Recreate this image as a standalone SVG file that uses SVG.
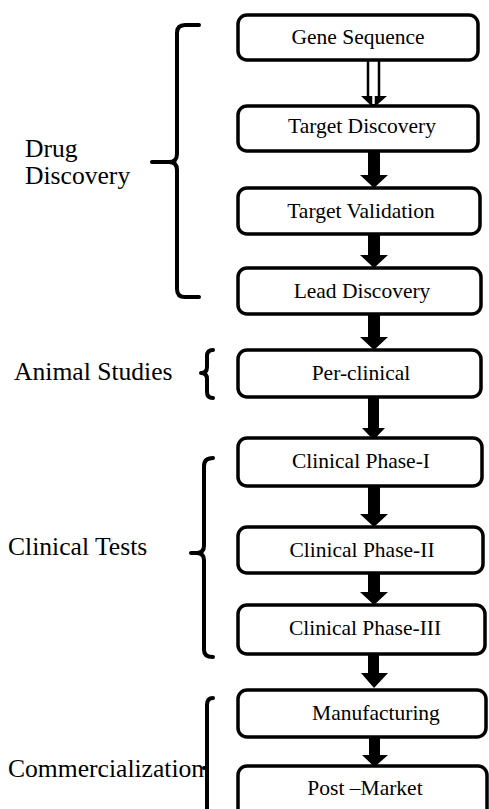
<svg xmlns="http://www.w3.org/2000/svg" width="489" height="809" viewBox="0 0 489 809">
<style>
.box{fill:#fff;stroke:#000;stroke-width:3.5}
.t{font-size:21.5px;fill:#000;text-anchor:middle}
.lab{font-size:25.6px;fill:#000}
.br{fill:none;stroke:#000;stroke-width:4;stroke-linecap:round;stroke-linejoin:round}
.ar{fill:#000;stroke:none}
</style>
<rect width="489" height="809" fill="#fff"/>
<g id="connectors">
<path d="M368,61 V97 M379,61 V97" fill="none" stroke="#000" stroke-width="2.5"/>
<path class="ar" d="M361,96 H387 L373.5,108 Z"/>
<path d="M373.5,96 V104" stroke="#fff" stroke-width="2.5"/>
<path class="ar" d="M368,151 H380 V175 H388 L374,188 L360,175 H368 Z"/>
<path class="ar" d="M368,234 H380 V255 H388 L374,268 L360,255 H368 Z"/>
<path class="ar" d="M368,314 H380 V337 H388 L374,350 L360,337 H368 Z"/>
<path class="ar" d="M368,397 H379 V428 H385 L373.5,440 L362,428 H368 Z"/>
<path class="ar" d="M368,486 H380 V514 H388 L374,527 L360,514 H368 Z"/>
<path class="ar" d="M368,573 H380 V592 H388 L374,605 L360,592 H368 Z"/>
<path class="ar" d="M368,654 H379 V673 H388 L374,688 L361,673 H368 Z"/>
<path class="ar" d="M369,737 H380 V755 H388 L374.5,767 L362,755 H369 Z"/>
</g>
<g id="brackets">
<path class="br" d="M199,25 H185 Q177,25 177,33 V154 Q177,162 169,162 H152 M169,162 Q177,162 177,170 V289 Q177,297 185,297 H199"/>
<path class="br" d="M213,350 Q207,350 207,356 V367 Q207,373 201,373 M201,373 Q207,373 207,379 V392 Q207,398 213,398"/>
<path class="br" d="M213,458 Q204,458 204,466 V546 Q204,553 196,553 H191 M196,553 Q204,553 204,560 V650 Q204,657 213,657"/>
<path class="br" d="M213,698 Q207,698 207,705 V812 M204,768 H207"/>
</g>
<g id="labels" font-family="Liberation Serif, serif">
<text class="lab" x="25" y="157">Drug</text>
<text class="lab" x="25" y="184">Discovery</text>
<text class="lab" x="14" y="380">Animal Studies</text>
<text class="lab" x="8" y="555">Clinical Tests</text>
<text class="lab" x="8" y="777">Commercialization</text>
</g>
<g font-family="Liberation Serif, serif">
<g id="n1"><rect class="box" x="238" y="15" width="240" height="45" rx="9"/><text class="t" x="358" y="43.5">Gene Sequence</text></g>
<g id="n2"><rect class="box" x="238" y="106" width="240" height="45" rx="9"/><text class="t" x="362" y="133">Target Discovery</text></g>
<g id="n3"><rect class="box" x="238" y="188" width="242" height="46" rx="9"/><text class="t" x="361" y="218">Target Validation</text></g>
<g id="n4"><rect class="box" x="238" y="268" width="243" height="46" rx="9"/><text class="t" x="362" y="298">Lead Discovery</text></g>
<g id="n5"><rect class="box" x="238" y="350" width="243" height="47" rx="9"/><text class="t" x="361" y="380">Per-clinical</text></g>
<g id="n6"><rect class="box" x="238" y="438" width="244" height="48" rx="9"/><text class="t" x="361" y="468">Clinical Phase-I</text></g>
<g id="n7"><rect class="box" x="238" y="527" width="245" height="46" rx="9"/><text class="t" x="362" y="557">Clinical Phase-II</text></g>
<g id="n8"><rect class="box" x="238" y="605" width="247" height="49" rx="9"/><text class="t" x="365" y="635">Clinical Phase-III</text></g>
<g id="n9"><rect class="box" x="238" y="690" width="248" height="47" rx="9"/><text class="t" x="376" y="720">Manufacturing</text></g>
<g id="n10"><rect class="box" x="238" y="766" width="249" height="60" rx="9"/><text class="t" x="365" y="795">Post –Market</text></g>
</g>
</svg>
